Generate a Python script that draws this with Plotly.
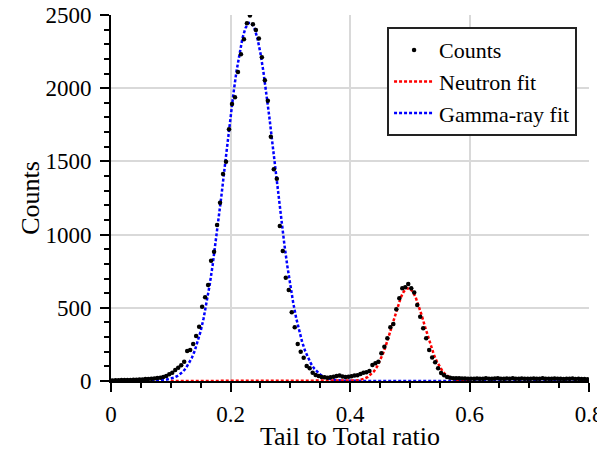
import numpy as np
import plotly.graph_objects as go

# ---- data: measured counts per bin (bin width 0.005, centres 0.0025 ... 0.7975)
counts = [
    4, 5, 5, 6, 6, 7, 7, 8, 9, 10,
    11, 13, 14, 15, 17, 20, 23, 27, 34, 46,
    57, 75, 91, 107, 132, 205, 212, 253, 307, 371,
    507, 572, 656, 822, 883, 1066, 1218, 1414, 1498, 1719,
    1892, 1938, 2111, 2232, 2334, 2443, 2496, 2436, 2398, 2340,
    2211, 2054, 1915, 1669, 1446, 1382, 1059, 888, 706, 622,
    470, 367, 253, 200, 159, 102, 87, 57, 41, 34,
    28, 25, 23, 26, 29, 34, 38, 30, 28, 29,
    32, 37, 40, 48, 57, 60, 68, 110, 121, 132,
    189, 234, 292, 367, 389, 490, 565, 633, 640, 663,
    633, 605, 519, 439, 360, 292, 212, 160, 128, 87,
    55, 40, 27, 22, 19, 18, 18, 17, 17, 16,
    16, 15, 17, 16, 15, 18, 16, 15, 17, 19,
    16, 15, 17, 16, 18, 16, 15, 17, 16, 15,
    16, 17, 15, 16, 18, 15, 16, 15, 17, 16,
    15, 14, 16, 15, 17, 14, 15, 13, 14, 12,
]
bin_width = 0.005
bin_centres = np.arange(len(counts)) * bin_width + bin_width / 2

# ---- fitted curves, sampled every 0.005 on [0, 0.8]
fit_x = np.round(np.arange(161) * 0.005, 4)

gamma_fit_start = 10   # index of x = 0.05
gamma_fit_core = [
    0.15, 0.26, 0.43, 0.71, 1.15, 1.83, 2.9, 4.4, 6.7, 10.1,
    15.0, 21.8, 31.4, 44.5, 62.1, 85.5, 116.0, 155.2, 204.4, 265.3,
    339.6, 428.5, 532.7, 652.7, 788.2, 938.4, 1100.5, 1272.5, 1450.2, 1628.8,
    1803.2, 1967.1, 2115.1, 2241.5, 2341.5, 2410.3, 2445.6,
    2445.6, 2410.3, 2341.5, 2241.5, 2115.1, 1967.1, 1803.2, 1628.8, 1450.2,
    1272.5, 1100.5, 938.4, 788.2, 652.7, 532.7, 428.5, 339.6, 265.3, 204.4,
    155.2, 116.0, 85.5, 62.1, 44.5, 31.4, 21.8, 15.0, 10.1, 6.7,
    4.4, 2.9, 1.83, 1.15, 0.71, 0.43, 0.26, 0.15,
]
neutron_fit_start = 80  # index of x = 0.40
neutron_fit_core = [
    0.94, 1.8, 3.3, 6.0, 10.3, 17.3, 27.9, 43.6, 65.7, 95.9,
    135.1, 184.0, 242.1, 307.7, 378.0, 448.8, 514.7, 570.5, 611.0, 632.3,
    632.3, 611.0, 570.5, 514.7, 448.8, 378.0, 307.7, 242.1, 184.0, 135.1,
    95.9, 65.7, 43.6, 27.9, 17.3, 10.3, 6.0, 3.3, 1.8, 0.94,
]

gamma_fit = np.zeros(len(fit_x))
gamma_fit[gamma_fit_start:gamma_fit_start + len(gamma_fit_core)] = gamma_fit_core
neutron_fit = np.zeros(len(fit_x))
neutron_fit[neutron_fit_start:neutron_fit_start + len(neutron_fit_core)] = neutron_fit_core
# neutron fit drawn over [0.1, 0.6]
nmask = (fit_x >= 0.1) & (fit_x <= 0.6)

x_ticks = [0, 0.2, 0.4, 0.6, 0.8]
x_tick_labels = ["0", "0.2", "0.4", "0.6", "0.8"]
y_ticks = [0, 500, 1000, 1500, 2000, 2500]
y_tick_labels = ["0", "500", "1000", "1500", "2000", "2500"]
x_title = "Tail to Total ratio"
y_title = "Counts"

FONT = "'Liberation Serif', 'Times New Roman', 'DejaVu Serif', serif"

fig = go.Figure()
fig.add_trace(go.Scatter(
    x=fit_x, y=gamma_fit, mode="lines", name="Gamma-ray fit",
    line=dict(color="#0000ff", width=2.5, dash="3px,2px"), legendrank=3,
))
fig.add_trace(go.Scatter(
    x=fit_x[nmask], y=neutron_fit[nmask], mode="lines", name="Neutron fit",
    line=dict(color="#ff0000", width=2.5, dash="3px,2px"), legendrank=2,
))
fig.add_trace(go.Scatter(
    x=bin_centres, y=counts, mode="markers", name="Counts",
    marker=dict(color="black", size=4.5), legendrank=1,
))

axis_common = dict(
    showline=True, linecolor="black", linewidth=2,
    ticks="outside", ticklen=9, tickwidth=2, tickcolor="black",
    showgrid=True, gridcolor="#d9d9d9", gridwidth=1.5,
    zeroline=False, mirror=False, automargin=False,
    ticklabeloverflow="allow",
    tickfont=dict(family=FONT, size=23, color="black"),
)

fig.update_xaxes(
    range=[0, 0.8], tickvals=x_ticks, ticktext=x_tick_labels,
    ticklabelstandoff=2,
    minor=dict(dtick=0.05, tick0=0, ticks="outside", ticklen=5, tickwidth=1.5, tickcolor="black", showgrid=False),
    **axis_common,
)
fig.update_yaxes(
    range=[0, 2500], tickvals=y_ticks, ticktext=y_tick_labels,
    ticklabelstandoff=4,
    minor=dict(dtick=100, tick0=0, ticks="outside", ticklen=5, tickwidth=1.5, tickcolor="black", showgrid=False),
    **axis_common,
)

# axis titles as paper-anchored annotations
fig.add_annotation(
    text=x_title, xref="paper", yref="paper", x=0.5, y=-0.152,
    xanchor="center", yanchor="middle", showarrow=False,
    font=dict(family=FONT, size=26, color="black"),
)
fig.add_annotation(
    text=y_title, xref="paper", yref="paper", x=-0.17, y=0.5,
    xanchor="center", yanchor="middle", showarrow=False, textangle=-90,
    font=dict(family=FONT, size=26, color="black"),
)

# page body adds an 8px offset; the figure is sized so the plot lands where the reference has it
fig.update_layout(
    width=597, height=441,
    margin=dict(l=103, r=16, t=7, b=68),
    plot_bgcolor="white", paper_bgcolor="white",
    font=dict(family=FONT, size=23, color="black"),
    legend=dict(
        x=0.975, y=0.967, xanchor="right", yanchor="top",
        bgcolor="white", bordercolor="#222222", borderwidth=2,
        font=dict(family=FONT, size=22, color="black"),
        tracegroupgap=0, itemwidth=40,
    ),
    showlegend=True,
)

fig.write_html("out.html")
